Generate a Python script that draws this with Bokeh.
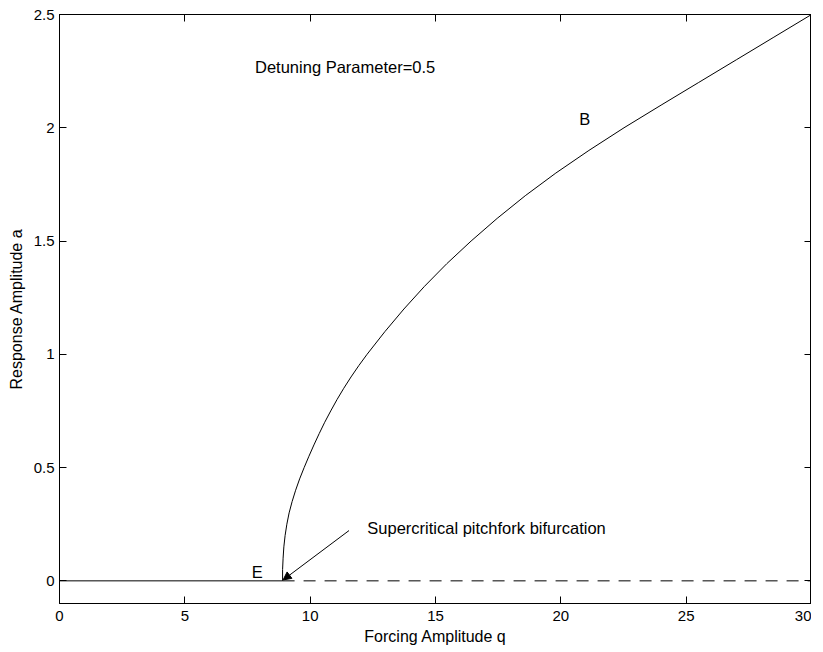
from bokeh.plotting import figure
from bokeh.models import Range1d, LinearAxis, FixedTicker, Arrow, NormalHead
from bokeh.core.properties import value
from bokeh.embed import file_html
from bokeh.resources import INLINE

FONT = "Liberation Sans"

# ---- data ----
# trivial (zero) solution branch
trivial_stable_q = [0.0, 8.9]
trivial_stable_a = [0.0, 0.0]
trivial_unstable_q = [8.9, 30.0]
trivial_unstable_a = [0.0, 0.0]

# nontrivial branch B (response amplitude a vs forcing amplitude q)
branch_a = [0.00, 0.05, 0.10, 0.15, 0.20, 0.25, 0.30, 0.35, 0.40, 0.45,
            0.50, 0.55, 0.60, 0.65, 0.70, 0.75, 0.80, 0.85, 0.90, 0.95,
            1.00, 1.10, 1.20, 1.30, 1.40, 1.50, 1.60, 1.70, 1.80, 1.90,
            2.00, 2.10, 2.20, 2.30, 2.40, 2.50]
branch_q = [8.90, 8.90, 8.92, 8.95, 9.00, 9.07, 9.16, 9.28, 9.42, 9.58,
            9.76, 9.95, 10.15, 10.36, 10.58, 10.82, 11.07, 11.34, 11.63, 11.94,
            12.27, 12.98, 13.74, 14.56, 15.45, 16.42, 17.46, 18.58, 19.80, 21.12,
            22.52, 24.00, 25.50, 27.00, 28.50, 30.00]

x_ticks = [0, 5, 10, 15, 20, 25, 30]
y_ticks = [0, 0.5, 1, 1.5, 2, 2.5]
y_tick_labels = ["0", "0.5", "1", "1.5", "2", "2.5"]

note_q = [7.80, 20.73, 7.67, 12.28]
note_a = [2.268, 2.04, 0.038, 0.233]
note_text = ["Detuning Parameter=0.5", "B", "E", "Supercritical pitchfork bifurcation"]

arrow_from = (11.55, 0.222)
arrow_to = (8.92, 0.004)

# ---- figure ----
p = figure(frame_width=752, frame_height=589,
           x_range=Range1d(0, 30), y_range=Range1d(-0.1, 2.5),
           output_backend="svg", toolbar_location=None,
           min_border=0, min_border_top=14)
p.margin = (0, 0, 0, 4)
p.title.visible = False
p.grid.visible = False
p.outline_line_color = "black"
p.outline_line_width = 1
p.background_fill_color = "white"
p.border_fill_color = "white"

def style_axis(ax, labels=True):
    ax.major_tick_in = 7
    ax.major_tick_out = 0
    ax.minor_tick_line_color = None
    ax.axis_line_color = "black"
    ax.major_tick_line_color = "black"
    if labels:
        ax.major_label_text_font = FONT
        ax.major_label_text_font_size = "15px"
        ax.major_label_text_color = "black"
        ax.axis_label_text_font = FONT
        ax.axis_label_text_font_size = "16px"
        ax.axis_label_text_font_style = "normal"
        ax.axis_label_text_color = "black"
    else:
        ax.major_label_text_font_size = "1px"
        ax.major_label_standoff = 0

xa = p.xaxis[0]
xa.ticker = FixedTicker(ticks=x_ticks)
xa.axis_label = "Forcing Amplitude q"
style_axis(xa)
xa.major_label_standoff = 7
xa.axis_label_standoff = 4

ya = p.yaxis[0]
ya.ticker = FixedTicker(ticks=y_ticks)
ya.major_label_overrides = {t: l for t, l in zip(y_ticks, y_tick_labels)}
ya.axis_label = "Response Amplitude a"
style_axis(ya)
ya.major_label_standoff = 5
ya.axis_label_standoff = 6

top = LinearAxis(ticker=FixedTicker(ticks=x_ticks),
                 major_label_overrides={t: "" for t in x_ticks})
style_axis(top, labels=False)
p.add_layout(top, "above")
right = LinearAxis(ticker=FixedTicker(ticks=y_ticks),
                   major_label_overrides={t: "" for t in y_ticks})
style_axis(right, labels=False)
p.add_layout(right, "right")

# ---- curves ----
p.line(trivial_stable_q, trivial_stable_a, line_color="black", line_width=1)
p.line(trivial_unstable_q, trivial_unstable_a, line_color="black", line_width=1,
       line_dash="12 9")
p.line(branch_q, branch_a, line_color="black", line_width=1)

p.text(x=note_q, y=note_a, text=note_text, text_font=value(FONT),
       text_font_size="16.5px", text_color="black",
       text_align="left", text_baseline="alphabetic")

p.add_layout(Arrow(end=NormalHead(size=8, fill_color="black", line_color="black"),
                   x_start=arrow_from[0], y_start=arrow_from[1],
                   x_end=arrow_to[0], y_end=arrow_to[1],
                   line_color="black", line_width=1))

open("out.html", "w").write(file_html(p, INLINE))
